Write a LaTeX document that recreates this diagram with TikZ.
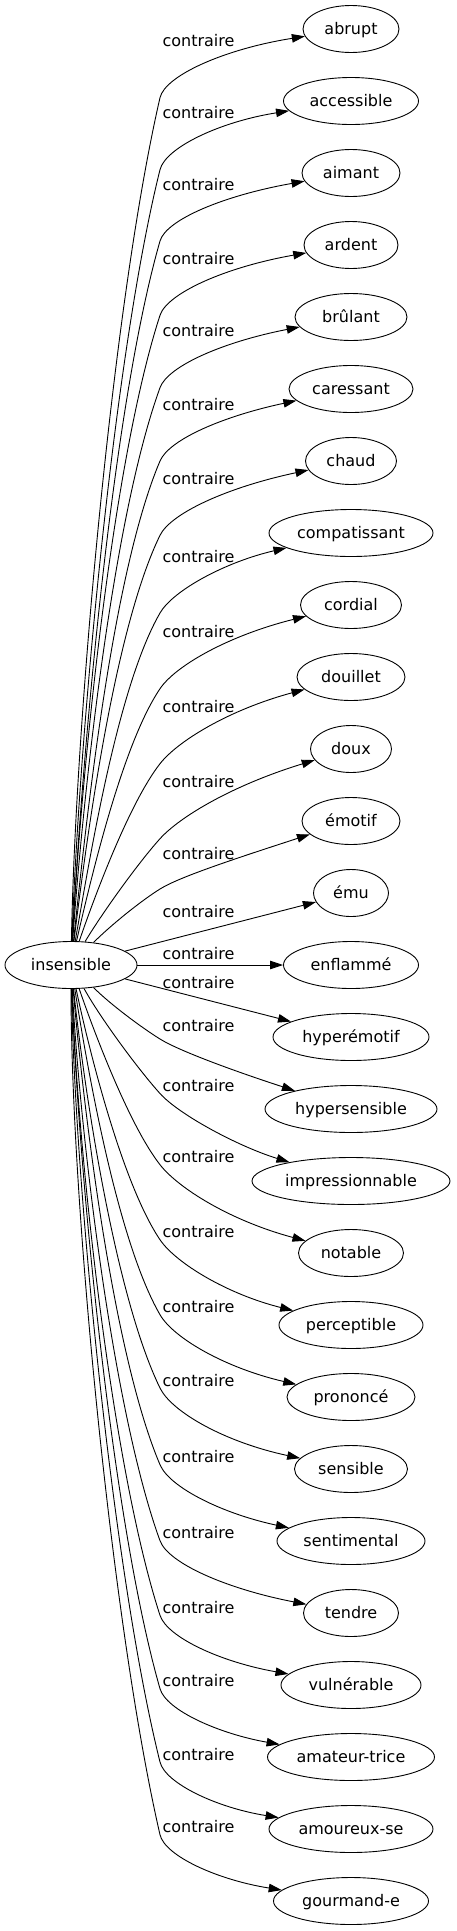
\documentclass[tikz,border=0pt]{standalone}
\usepackage{fontspec}
\setmainfont{DejaVu Sans}
\usetikzlibrary{shapes.geometric,arrows.meta}
\begin{document}
\begin{tikzpicture}[x=1pt,y=1pt,
  every node/.style={font=\fontsize{16}{19}\selectfont},
  word/.style={draw, ellipse, line width=0.9pt, minimum height=47pt, inner sep=0pt, text height=12pt, text depth=1.4pt},
  lab/.style={anchor=base, inner sep=0pt},
  arr/.style={line width=0.9pt, -{Triangle[length=13pt,width=8.5pt]}}]
\useasboundingbox (0,0) rectangle (456,-1931);
\node[word, minimum width=132pt] (ins) at (71,-965) {insensible};
% target nodes and labels
\foreach \i/\nm/\txt/\w/\ly in {
  0/abrupt/abrupt/96/40.7, 1/accessible/accessible/135/112.7, 2/aimant/aimant/98/184,
  3/ardent/ardent/94/258.3, 4/brulant/brûlant/112/330.7, 5/caressant/caressant/124/404,
  6/chaud/chaud/91/478.3, 7/compatissant/compatissant/164/556, 8/cordial/cordial/101/631.7,
  9/douillet/douillet/108/706.7, 10/doux/doux/81/781.7, 11/emotif/émotif/98/853,
  12/emu/ému/75/911.7, 13/enflamme/enflammé/135/953.3, 14/hyperemotif/hyperémotif/156/982.3,
  15/hypersensible/hypersensible/172/1025.3, 16/impressionnable/impressionnable/198/1085.5,
  17/notable/notable/105/1156.7, 18/perceptible/perceptible/144/1231.7, 19/prononce/prononcé/128/1306.7,
  20/sensible/sensible/113/1380, 21/sentimental/sentimental/148/1456.7, 22/tendre/tendre/95/1532.7,
  23/vulnerable/vulnérable/140/1607.3, 24/amateur/amateur-trice/167/1680.7, 25/amoureux/amoureux-se/164/1754,
  26/gourmand/gourmand-e/155/1826.7}{
  \pgfmathsetmacro\ty{29+72*\i}
  \node[word, minimum width=\w pt] (\nm) at (351,-\ty) {\txt};
  \node[lab] (l\i) at (198.5,{-(\ly+6)}) {contraire};
}
% upper edges
\foreach \i/\nm/\w/\yk/\ps/\th in {
  0/abrupt/96/97.7/77/9, 1/accessible/135/169.7/76/9, 2/aimant/98/241/74/10,
  3/ardent/94/315.3/72/10, 4/brulant/112/387.7/70/11, 5/caressant/124/461/67/12,
  6/chaud/91/535.3/64/12, 7/compatissant/164/613/60/13, 8/cordial/101/688.7/56/14,
  9/douillet/108/763.7/52/15, 10/doux/81/838.7/48/17, 11/emotif/98/889/32/18}{
  \pgfmathsetmacro\ty{29+72*\i}
  \pgfmathtruncatemacro\oa{atan2(965-\yk,89)+5}
  \pgfmathsetmacro\la{0.25*(10*veclen(8.9,(965-\yk)/10)-23)}
  \pgfmathsetmacro\da{0.33*(\yk-\ty)}
  \pgfmathsetmacro\db{0.57*(351-\w/2-160)}
  \pgfmathtruncatemacro\ia{\ps+180}
  \pgfmathtruncatemacro\ib{\th+180}
  \coordinate (k\nm) at (160,-\yk);
  \draw[arr] (ins) to[out=\oa,in=\ia,out distance=\la pt,in distance=\la pt] (k\nm)
    to[out=\ps,in=\ib,out distance=\da pt,in distance=\db pt] (\nm);
}
% straight edges
\draw[arr] (ins) -- (emu);
\draw[arr] (ins) -- (enflamme);
\draw[arr] (ins) -- (hyperemotif);
% lower edges
\foreach \i/\nm/\w/\yk/\ps/\th in {
  15/hypersensible/172/1039/32/18, 16/impressionnable/198/1093.5/48/17, 17/notable/105/1164.7/52/15,
  18/perceptible/144/1239.7/56/14, 19/prononce/128/1314.7/60/13, 20/sensible/113/1388/64/12,
  21/sentimental/148/1464.7/67/12, 22/tendre/95/1540.7/70/11, 23/vulnerable/140/1615.3/72/10,
  24/amateur/167/1688.7/74/10, 25/amoureux/164/1762/76/9, 26/gourmand/155/1834.7/77/9}{
  \pgfmathsetmacro\ty{29+72*\i}
  \pgfmathtruncatemacro\oa{360-atan2(\yk-965,89)-5}
  \pgfmathsetmacro\la{0.25*(10*veclen(8.9,(\yk-965)/10)-23)}
  \pgfmathsetmacro\da{0.33*(\ty-\yk)}
  \pgfmathsetmacro\db{0.57*(351-\w/2-160)}
  \pgfmathtruncatemacro\ia{180-\ps}
  \pgfmathtruncatemacro\ob{360-\ps}
  \pgfmathtruncatemacro\ib{180-\th}
  \coordinate (k\nm) at (160,-\yk);
  \draw[arr] (ins) to[out=\oa,in=\ia,out distance=\la pt,in distance=\la pt] (k\nm)
    to[out=\ob,in=\ib,out distance=\da pt,in distance=\db pt] (\nm);
}
\end{tikzpicture}
\end{document}
